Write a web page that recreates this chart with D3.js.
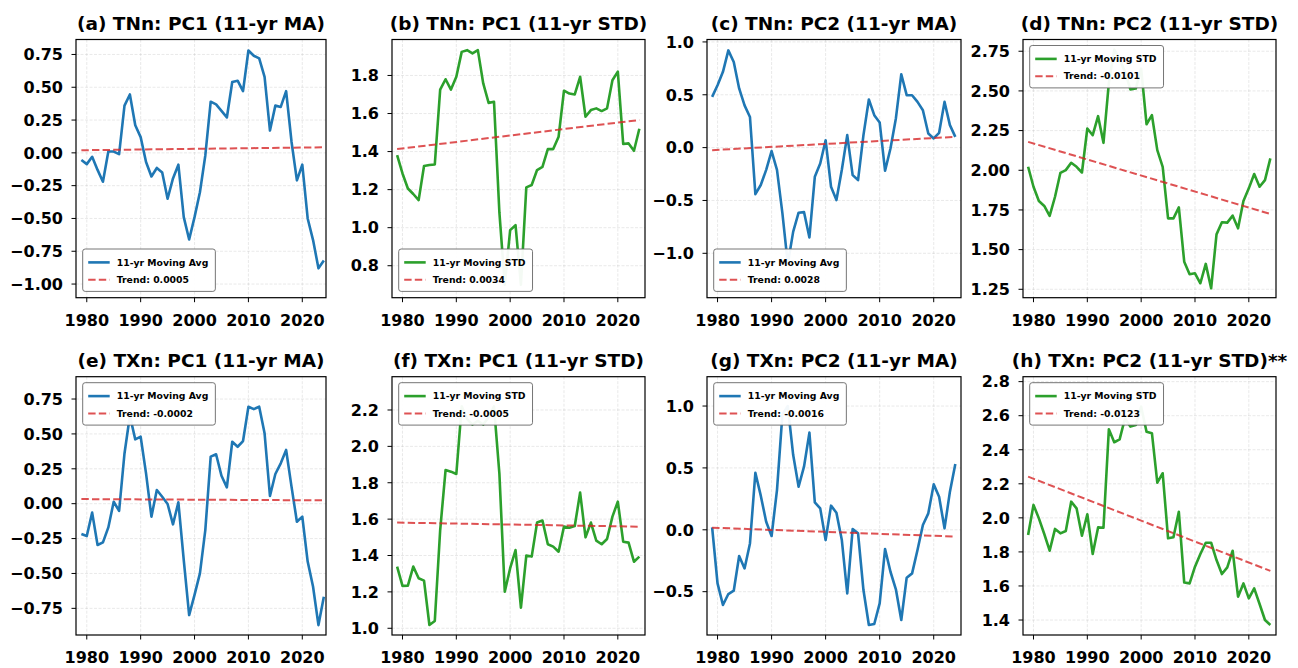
<!DOCTYPE html>
<html>
<head>
<meta charset="utf-8">
<script src="https://cdn.jsdelivr.net/npm/d3@7"></script>
<style>
body { margin: 0; background: #fff; }
svg { font-family: "DejaVu Sans", sans-serif; font-weight: bold; }
</style>
</head>
<body>
<svg id="chart" width="1298" height="668"></svg>
<script>
/* Data */
var years = [1979,1980,1981,1982,1983,1984,1985,1986,1987,1988,1989,1990,1991,1992,1993,1994,1995,1996,1997,1998,
  1999,2000,2001,2002,2003,2004,2005,2006,2007,2008,2009,2010,2011,2012,2013,2014,2015,2016,2017,2018,
  2019,2020,2021,2022,2023,2024];

var tnnPc1Ma = [-0.055,-0.086,-0.03,-0.13,-0.22,0.01,0.01,-0.01,0.36,0.445,
  0.21,0.12,-0.07,-0.18,-0.115,-0.15,-0.35,-0.195,-0.09,-0.49,
  -0.66,-0.49,-0.30,-0.02,0.39,0.37,0.32,0.27,0.54,0.55,
  0.47,0.78,0.74,0.72,0.58,0.17,0.36,0.35,0.47,0.085,
  -0.21,-0.09,-0.50,-0.665,-0.88,-0.82];
var tnnPc1Std = [1.381,1.285,1.206,1.177,1.145,1.324,1.329,1.332,1.726,1.78,
  1.726,1.793,1.924,1.933,1.916,1.933,1.758,1.656,1.662,1.08,
  0.70,0.987,1.013,0.70,1.212,1.224,1.303,1.32,1.413,1.413,
  1.478,1.72,1.705,1.70,1.793,1.583,1.618,1.627,1.613,1.627,
  1.775,1.82,1.44,1.443,1.404,1.52];
var tnnPc2Ma = [0.48,0.59,0.717,0.92,0.81,0.56,0.40,0.29,-0.44,-0.354,
  -0.21,-0.033,-0.21,-0.62,-1.10,-0.795,-0.616,-0.61,-0.85,-0.276,
  -0.15,0.07,-0.37,-0.496,-0.21,0.118,-0.26,-0.307,0.118,0.455,
  0.307,0.238,-0.219,-0.008,0.276,0.694,0.496,0.496,0.433,0.354,
  0.134,0.087,0.14,0.433,0.213,0.102];
var tnnPc2Std = [2.022,1.896,1.806,1.775,1.712,1.833,1.984,2.001,2.047,2.022,
  1.986,2.263,2.221,2.341,2.173,2.55,2.76,2.70,2.62,2.509,
  2.515,2.64,2.29,2.347,2.127,2.022,1.697,1.697,1.766,1.424,
  1.345,1.351,1.288,1.41,1.256,1.596,1.672,1.670,1.714,1.634,
  1.806,1.886,1.976,1.896,1.938,2.075];
var txnPc1Ma = [-0.217,-0.232,-0.064,-0.296,-0.277,-0.17,0.014,-0.052,0.36,0.63,
  0.461,0.48,0.217,-0.093,0.098,0.05,-0.002,-0.148,0.01,-0.404,
  -0.798,-0.654,-0.499,-0.189,0.337,0.354,0.20,0.117,0.444,0.408,
  0.449,0.695,0.678,0.695,0.504,0.055,0.213,0.289,0.385,0.122,
  -0.129,-0.093,-0.415,-0.595,-0.87,-0.667];
var txnPc1Std = [1.339,1.233,1.234,1.339,1.275,1.262,1.018,1.04,1.54,1.87,
  1.861,1.848,2.22,2.15,2.12,2.14,2.12,2.16,2.22,1.85,
  1.201,1.33,1.43,1.113,1.40,1.394,1.581,1.592,1.462,1.449,
  1.421,1.559,1.553,1.562,1.746,1.50,1.581,1.482,1.462,1.491,
  1.614,1.696,1.476,1.471,1.366,1.394];
var txnPc2Ma = [0.02,-0.433,-0.608,-0.519,-0.492,-0.212,-0.312,-0.11,0.461,0.276,
  0.065,-0.05,0.321,0.93,1.0,0.604,0.348,0.51,0.785,0.222,
  0.173,-0.083,0.195,0.138,-0.083,-0.514,0.006,-0.029,-0.487,-0.769,
  -0.761,-0.594,-0.155,-0.339,-0.481,-0.729,-0.387,-0.352,-0.163,0.039,
  0.133,0.367,0.267,0.012,0.308,0.531];
var txnPc2Std = [1.899,2.076,1.997,1.905,1.807,1.935,1.909,1.923,2.095,2.056,
  1.895,2.021,1.788,1.944,1.942,2.52,2.444,2.461,2.585,2.536,
  2.545,2.653,2.506,2.497,2.207,2.262,1.88,1.886,2.036,1.62,
  1.615,1.713,1.788,1.854,1.854,1.752,1.67,1.709,1.807,1.537,
  1.615,1.527,1.586,1.494,1.40,1.371];

var panelTitles = ["(a) TNn: PC1 (11-yr MA)", "(b) TNn: PC1 (11-yr STD)", "(c) TNn: PC2 (11-yr MA)", "(d) TNn: PC2 (11-yr STD)",
  "(e) TXn: PC1 (11-yr MA)", "(f) TXn: PC1 (11-yr STD)", "(g) TXn: PC2 (11-yr MA)", "(h) TXn: PC2 (11-yr STD)**"];
var seriesLabels = ["11-yr Moving Avg", "11-yr Moving STD"];
var trendSlopes = [0.0005, 0.0034, 0.0028, -0.0101, -0.0002, -0.0005, -0.0016, -0.0123];
var trendStarts = [0.02, 1.413, -0.024, 2.179, 0.033, 1.581, 0.017, 2.242];

var xTicks = [1980, 1990, 2000, 2010, 2020];
var yTicks = [
  [-1.00, -0.75, -0.50, -0.25, 0.00, 0.25, 0.50, 0.75],
  [0.8, 1.0, 1.2, 1.4, 1.6, 1.8],
  [-1.0, -0.5, 0.0, 0.5, 1.0],
  [1.25, 1.50, 1.75, 2.00, 2.25, 2.50, 2.75],
  [-0.75, -0.50, -0.25, 0.00, 0.25, 0.50, 0.75],
  [1.0, 1.2, 1.4, 1.6, 1.8, 2.0, 2.2],
  [-0.5, 0.0, 0.5, 1.0],
  [1.4, 1.6, 1.8, 2.0, 2.2, 2.4, 2.6, 2.8]
];
var tickDecimals = [2, 1, 1, 2, 2, 1, 1, 1];

/* Layout */
var colEdges = [[76, 326], [392, 645], [707, 961], [1023, 1276]];
var rowEdges = [[39.5, 297.7], [376.7, 635]];
var xDomains = [[1978.0, 2024.4], [1978.05, 2025.05], [1978.05, 2025.05], [1978.05, 2025.05]];
var yDomains = [[-1.104, 0.864], [0.632, 1.989], [-1.42, 1.023], [1.197, 2.824],
  [-0.941, 0.91], [0.963, 2.383], [-0.85, 1.237], [1.312, 2.829]];
var legendUpper = [false, false, false, true, true, true, true, true];

var seriesList = [tnnPc1Ma, tnnPc1Std, tnnPc2Ma, tnnPc2Std, txnPc1Ma, txnPc1Std, txnPc2Ma, txnPc2Std];

var colors = {ma: "#1f77b4", std: "#2ca02c", trend: "#d62728"};

var svg = d3.select("#chart");

function drawPanel(i){
  var col = i % 4, row = Math.floor(i / 4);
  var left = colEdges[col][0], right = colEdges[col][1];
  var top = rowEdges[row][0], bottom = rowEdges[row][1];
  var isStd = (i % 2 === 1);
  var values = seriesList[i];

  var x = d3.scaleLinear().domain(xDomains[col]).range([left, right]);
  var y = d3.scaleLinear().domain(yDomains[i]).range([bottom, top]);

  var g = svg.append("g").attr("class", "panel");

  // clip to axes
  g.append("clipPath").attr("id", "clip" + i)
    .append("rect").attr("x", left).attr("y", top)
    .attr("width", right - left).attr("height", bottom - top);

  // grid
  var grid = g.append("g").attr("class", "grid")
    .attr("stroke", "#b0b0b0").attr("stroke-opacity", 0.35)
    .attr("stroke-width", 0.8).attr("stroke-dasharray", "3,1.5");
  grid.selectAll(".gx").data(xTicks).enter().append("line")
    .attr("x1", function(d){ return x(d); }).attr("x2", function(d){ return x(d); })
    .attr("y1", top).attr("y2", bottom);
  grid.selectAll(".gy").data(yTicks[i]).enter().append("line")
    .attr("y1", function(d){ return y(d); }).attr("y2", function(d){ return y(d); })
    .attr("x1", left).attr("x2", right);

  var pts = years.map(function(yr, k){ return [yr, values[k]]; });
  var line = d3.line().x(function(d){ return x(d[0]); }).y(function(d){ return y(d[1]); });

  g.append("path").datum(pts)
    .attr("clip-path", "url(#clip" + i + ")")
    .attr("fill", "none")
    .attr("stroke", isStd ? colors.std : colors.ma)
    .attr("stroke-width", 2.6)
    .attr("stroke-linejoin", "round")
    .attr("d", line);

  // trend
  var y0 = years[0];
  var trendPts = [years[0], years[years.length - 1]].map(function(yr){
    return [yr, trendStarts[i] + trendSlopes[i] * (yr - y0)];
  });
  g.append("path").datum(trendPts)
    .attr("fill", "none")
    .attr("stroke", colors.trend).attr("stroke-opacity", 0.8)
    .attr("stroke-width", 2).attr("stroke-dasharray", "7.4,3.2")
    .attr("d", line);

  // frame
  g.append("rect").attr("x", left).attr("y", top)
    .attr("width", right - left).attr("height", bottom - top)
    .attr("fill", "none").attr("stroke", "#000").attr("stroke-width", 1.2);

  // ticks
  var fmt = d3.format("." + tickDecimals[i] + "f");
  var yt = g.append("g");
  yt.selectAll("line").data(yTicks[i]).enter().append("line")
    .attr("x1", left - 4.5).attr("x2", left)
    .attr("y1", function(d){ return y(d); }).attr("y2", function(d){ return y(d); })
    .attr("stroke", "#000").attr("stroke-width", 1);
  yt.selectAll("text").data(yTicks[i]).enter().append("text")
    .attr("x", left - 13).attr("y", function(d){ return y(d); })
    .attr("dy", "0.36em").attr("text-anchor", "end")
    .attr("font-size", "16px")
    .text(function(d){ return fmt(d); });

  var xt = g.append("g");
  xt.selectAll("line").data(xTicks).enter().append("line")
    .attr("x1", function(d){ return x(d); }).attr("x2", function(d){ return x(d); })
    .attr("y1", bottom).attr("y2", bottom + 4.5)
    .attr("stroke", "#000").attr("stroke-width", 1);
  xt.selectAll("text").data(xTicks).enter().append("text")
    .attr("x", function(d){ return x(d); }).attr("y", bottom + 28)
    .attr("text-anchor", "middle").attr("font-size", "16px")
    .text(function(d){ return d; });

  // title
  g.append("text").attr("x", (left + right) / 2).attr("y", top - 9.5)
    .attr("text-anchor", "middle").attr("font-size", "18.5px")
    .text(panelTitles[i]);

  // legend
  var labels = [isStd ? seriesLabels[1] : seriesLabels[0], "Trend: " + trendSlopes[i].toFixed(4)];
  var leg = g.append("g");
  var box = leg.append("rect");
  var texts = leg.selectAll("text").data(labels).enter().append("text")
    .attr("font-size", "9.3px").attr("dy", "0.35em")
    .text(function(d){ return d; });
  var maxW = d3.max(texts.nodes(), function(n){ return n.getComputedTextLength(); });
  var bw = maxW + 41, bh = 42.4;
  var bx = left + 6.7;
  var by = legendUpper[i] ? top + 6 : bottom - 6.3 - bh;
  box.attr("x", bx).attr("y", by).attr("width", bw).attr("height", bh)
    .attr("rx", 2.5).attr("fill", "#fff").attr("fill-opacity", 0.95)
    .attr("stroke", "#666").attr("stroke-width", 0.9);
  texts.attr("x", bx + 34).attr("y", function(d, k){ return by + 13.4 + k * 17.3; });
  leg.append("line").attr("x1", bx + 5.5).attr("x2", bx + 27)
    .attr("y1", by + 13.4).attr("y2", by + 13.4)
    .attr("stroke", isStd ? colors.std : colors.ma).attr("stroke-width", 2.6);
  leg.append("line").attr("x1", bx + 5.5).attr("x2", bx + 27)
    .attr("y1", by + 30.7).attr("y2", by + 30.7)
    .attr("stroke", colors.trend).attr("stroke-opacity", 0.8)
    .attr("stroke-width", 2).attr("stroke-dasharray", "7.4,3.2");
}

for (var i = 0; i < 8; i++){
  drawPanel(i);
}
</script>
</body>
</html>
